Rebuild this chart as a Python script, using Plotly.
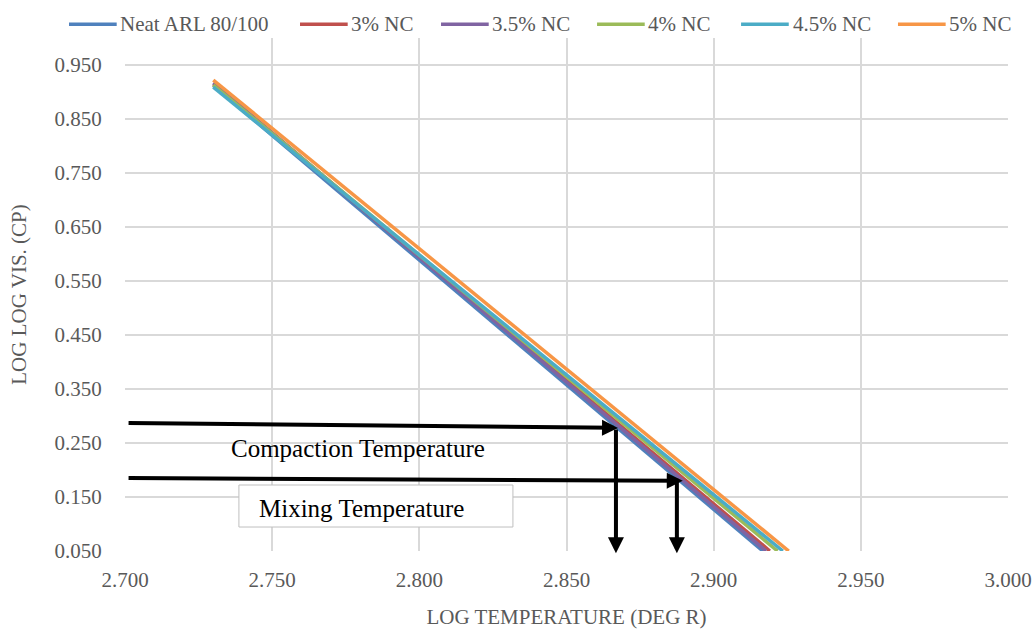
import plotly.graph_objects as go

# ---- data ----
series_names = ["Neat ARL 80/100", "3% NC", "3.5% NC", "4% NC", "4.5% NC", "5% NC"]
series_colors = ["#4F81BD", "#C0504D", "#8064A2", "#9BBB59", "#4BACC6", "#F79646"]
log_temp = {
    "Neat ARL 80/100": [2.730, 2.9167],
    "3% NC": [2.730, 2.9191],
    "3.5% NC": [2.730, 2.9178],
    "4% NC": [2.730, 2.9217],
    "4.5% NC": [2.730, 2.9235],
    "5% NC": [2.730, 2.9255],
}
log_log_vis = {
    "Neat ARL 80/100": [0.912, 0.050],
    "3% NC": [0.915, 0.050],
    "3.5% NC": [0.917, 0.050],
    "4% NC": [0.913, 0.050],
    "4.5% NC": [0.909, 0.050],
    "5% NC": [0.922, 0.050],
}
x_ticks = [2.70, 2.75, 2.80, 2.85, 2.90, 2.95, 3.00]
y_ticks = [0.05, 0.15, 0.25, 0.35, 0.45, 0.55, 0.65, 0.75, 0.85, 0.95]

# annotation arrows (tail -> head), data coordinates
compaction_h = dict(x0=2.7007, y0=0.287, x1=2.8675, y1=0.278)
compaction_v = dict(x0=2.8668, y0=0.278, x1=2.8668, y1=0.046)
mixing_h = dict(x0=2.7007, y0=0.185, x1=2.8895, y1=0.180)
mixing_v = dict(x0=2.8875, y0=0.180, x1=2.8875, y1=0.046)

# legend entry positions (paper coordinates of the plot area)
legend_line_x0 = [-0.0634, 0.1982, 0.3579, 0.5346, 0.6977, 0.8754]
legend_y = 1.027
legend_line_len = 0.054

SERIF = "Liberation Serif, Times New Roman, serif"
GREY = "#595959"
GRID = "#D9D9D9"

fig = go.Figure()
for name, color in zip(series_names, series_colors):
    fig.add_trace(go.Scatter(
        x=log_temp[name], y=log_log_vis[name], mode="lines", name=name,
        line=dict(color=color, width=3.5), showlegend=False,
    ))

annotations = []
shapes = []

# legend (Excel style: long line sample, text right after)
for name, color, lx in zip(series_names, series_colors, legend_line_x0):
    shapes.append(dict(
        type="line", xref="paper", yref="paper",
        x0=lx, x1=lx + legend_line_len, y0=legend_y, y1=legend_y,
        line=dict(color=color, width=3.5),
    ))
    annotations.append(dict(
        x=lx + legend_line_len + 0.002, y=legend_y, xref="paper", yref="paper",
        xanchor="left", yanchor="middle", text=name, showarrow=False,
        font=dict(family=SERIF, size=21, color=GREY),
    ))

for a in (compaction_h, compaction_v, mixing_h, mixing_v):
    annotations.append(dict(
        x=a["x1"], y=a["y1"], ax=a["x0"], ay=a["y0"],
        xref="x", yref="y", axref="x", ayref="y",
        showarrow=True, arrowhead=2, arrowsize=0.8, arrowwidth=4,
        arrowcolor="black", standoff=0, startstandoff=0, text="",
    ))

annotations.append(dict(
    x=2.7791, y=0.2407, xref="x", yref="y", text="Compaction Temperature",
    showarrow=False, font=dict(family=SERIF, size=25, color="black"),
))
annotations.append(dict(
    x=2.7805, y=0.1278, xref="x", yref="y", text="Mixing Temperature",
    showarrow=False, font=dict(family=SERIF, size=25, color="black"),
))

shapes.append(dict(
    type="rect", xref="x", yref="y", x0=2.7387, x1=2.8318, y0=0.0944, y1=0.1722,
    fillcolor="white", line=dict(color="#BFBFBF", width=1), layer="above",
))

fig.update_layout(
    width=1035, height=632,
    margin=dict(l=125, r=27, t=38, b=81, autoexpand=False),
    paper_bgcolor="white", plot_bgcolor="white",
    font=dict(family=SERIF, size=21, color=GREY),
    showlegend=False,
    xaxis=dict(
        range=[2.70, 3.00], tickvals=x_ticks, tickformat=".3f",
        showgrid=True, gridcolor=GRID, gridwidth=1.5, zeroline=False,
        showline=False, ticks="outside", ticklen=10, tickcolor="rgba(0,0,0,0)",
        tickfont=dict(family=SERIF, size=21, color=GREY), automargin=False,
        ticklabeloverflow="allow",
        title=dict(text="LOG TEMPERATURE (DEG R)", standoff=18,
                   font=dict(family=SERIF, size=21, color=GREY)),
    ),
    yaxis=dict(
        range=[0.05, 1.0], tickvals=y_ticks, tickformat=".3f",
        showgrid=True, gridcolor=GRID, gridwidth=1.5, zeroline=False,
        showline=False, ticks="outside", ticklen=18, tickcolor="rgba(0,0,0,0)",
        tickfont=dict(family=SERIF, size=21, color=GREY), automargin=False,
        ticklabeloverflow="allow",
        title=dict(text="LOG LOG VIS. (CP)", standoff=22,
                   font=dict(family=SERIF, size=21, color=GREY)),
    ),
    annotations=annotations,
    shapes=shapes,
)

# remove the default page margin so the 1035x632 figure fills the window exactly
fig.write_html(
    "out.html",
    config={"displayModeBar": False},
    post_script="document.body.style.margin='0';document.body.style.overflow='hidden';",
)
